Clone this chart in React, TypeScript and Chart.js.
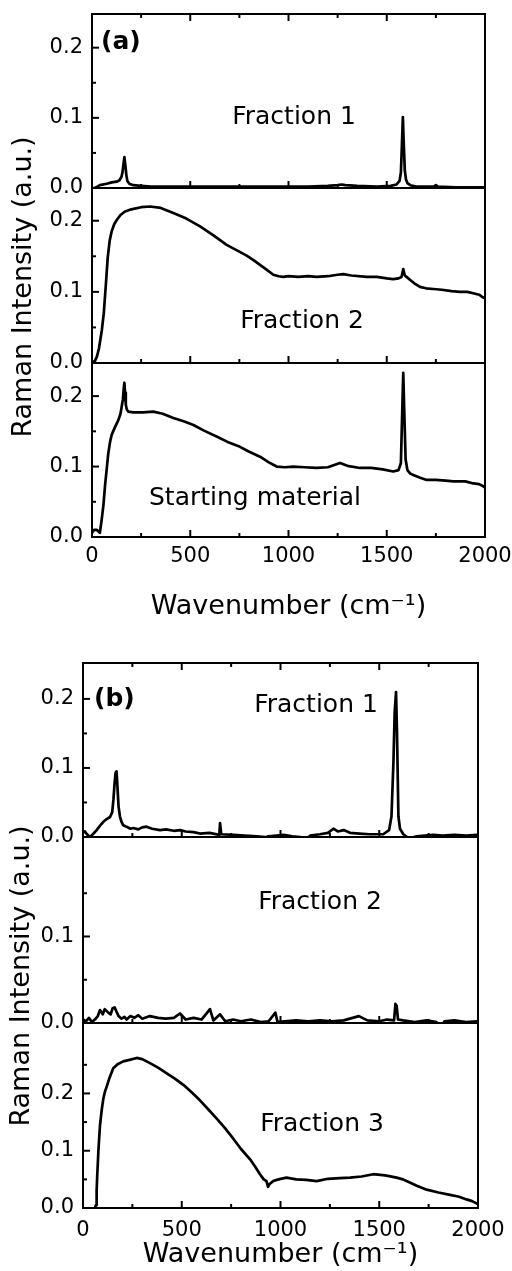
import React, { useEffect, useRef } from 'react';
import { Chart, registerables } from 'chart.js';
Chart.register(...registerables);

const FONT = "'DejaVu Sans', sans-serif";

// ---------- Panel (a) ----------
const aF1X = [0, 15, 40, 75, 100, 125, 140, 150, 155, 160, 165, 170, 175, 180, 190, 210, 250, 300, 400, 500, 600, 700, 800, 900, 1000, 1100, 1200, 1250, 1270, 1290, 1350, 1450, 1520, 1550, 1565, 1572, 1577, 1582, 1587, 1592, 1598, 1605, 1620, 1650, 1700, 1740, 1750, 1760, 1850, 1950, 2000];
const aF1Y = [0, 0.000, 0.004, 0.006, 0.008, 0.009, 0.011, 0.016, 0.022, 0.034, 0.044, 0.032, 0.018, 0.010, 0.006, 0.004, 0.003, 0.002, 0.002, 0.002, 0.002, 0.002, 0.002, 0.002, 0.002, 0.002, 0.003, 0.004, 0.005, 0.004, 0.003, 0.002, 0.003, 0.005, 0.010, 0.022, 0.060, 0.101, 0.060, 0.025, 0.012, 0.007, 0.004, 0.002, 0.002, 0.002, 0.004, 0.002, 0.001, 0.001, 0.001];

const aF2X = [0, 15, 25, 35, 42, 50, 60, 70, 80, 90, 100, 113, 126, 145, 168, 200, 250, 295, 350, 414, 480, 550, 620, 685, 740, 787, 820, 855, 890, 923, 950, 974, 1000, 1050, 1100, 1143, 1200, 1250, 1279, 1320, 1398, 1450, 1500, 1533, 1560, 1575, 1584, 1592, 1605, 1618, 1640, 1669, 1700, 1737, 1780, 1830, 1873, 1910, 1940, 1970, 1991, 2000];
const aF2Y = [0.000, 0.003, 0.009, 0.020, 0.032, 0.046, 0.070, 0.108, 0.148, 0.172, 0.185, 0.195, 0.201, 0.208, 0.213, 0.216, 0.219, 0.220, 0.218, 0.211, 0.203, 0.192, 0.179, 0.166, 0.158, 0.151, 0.145, 0.138, 0.131, 0.124, 0.122, 0.121, 0.122, 0.121, 0.122, 0.121, 0.122, 0.124, 0.125, 0.123, 0.121, 0.121, 0.119, 0.118, 0.119, 0.121, 0.132, 0.123, 0.120, 0.117, 0.112, 0.107, 0.105, 0.104, 0.103, 0.101, 0.100, 0.100, 0.098, 0.096, 0.092, 0.091];

const aSMX = [0, 10, 25, 40, 49, 58, 66, 75, 83, 92, 100, 117, 134, 145, 151, 157, 162, 165, 168, 172, 177, 185, 210, 260, 312, 360, 414, 470, 516, 570, 631, 690, 753, 800, 855, 900, 940, 980, 1025, 1080, 1143, 1200, 1262, 1300, 1364, 1420, 1480, 1533, 1560, 1572, 1578, 1584, 1590, 1596, 1605, 1620, 1635, 1670, 1703, 1750, 1800, 1839, 1900, 1940, 1970, 1991, 2000];
const aSMY = [0.006, 0.010, 0.010, 0.006, 0.024, 0.045, 0.072, 0.097, 0.119, 0.135, 0.145, 0.156, 0.166, 0.175, 0.185, 0.195, 0.212, 0.219, 0.205, 0.188, 0.181, 0.178, 0.177, 0.177, 0.178, 0.175, 0.169, 0.164, 0.159, 0.151, 0.143, 0.135, 0.128, 0.121, 0.114, 0.106, 0.100, 0.099, 0.100, 0.099, 0.098, 0.099, 0.105, 0.101, 0.098, 0.098, 0.096, 0.093, 0.095, 0.105, 0.170, 0.233, 0.170, 0.110, 0.095, 0.090, 0.088, 0.084, 0.081, 0.081, 0.080, 0.079, 0.079, 0.076, 0.075, 0.072, 0.070];

// ---------- Panel (b) ----------
const bF1X = [0, 10, 20, 35, 50, 69, 85, 103, 120, 137, 148, 154, 160, 165, 170, 175, 180, 187, 195, 204, 220, 240, 255, 280, 300, 322, 350, 390, 420, 460, 491, 520, 560, 592, 640, 690, 694, 700, 762, 820, 880, 925, 930, 935, 980, 1015, 1060, 1100, 1124, 1150, 1200, 1240, 1268, 1290, 1320, 1352, 1400, 1450, 1520, 1550, 1562, 1572, 1578, 1585, 1590, 1597, 1605, 1622, 1650, 1690, 1730, 1775, 1820, 1880, 1940, 1995, 2000];
const bF1Y = [0.006, 0.008, 0.004, 0.000, 0.004, 0.010, 0.016, 0.022, 0.026, 0.029, 0.036, 0.054, 0.078, 0.093, 0.095, 0.070, 0.044, 0.030, 0.022, 0.017, 0.015, 0.012, 0.013, 0.011, 0.014, 0.015, 0.012, 0.010, 0.011, 0.009, 0.010, 0.008, 0.007, 0.005, 0.006, 0.003, 0.020, 0.004, 0.003, 0.002, 0.001, 0.000, -0.009, 0.001, 0.002, 0.003, 0.001, 0.000, -0.005, 0.002, 0.004, 0.006, 0.012, 0.008, 0.010, 0.006, 0.005, 0.004, 0.004, 0.010, 0.030, 0.110, 0.180, 0.210, 0.150, 0.030, 0.012, 0.004, -0.002, 0.001, 0.002, 0.003, 0.002, 0.003, 0.002, 0.003, 0.003];

const bF2X = [0, 15, 30, 45, 60, 75, 86, 100, 110, 128, 140, 150, 160, 170, 180, 195, 210, 221, 240, 260, 280, 300, 339, 380, 420, 460, 491, 520, 560, 600, 643, 660, 694, 720, 760, 800, 850, 900, 940, 974, 985, 1020, 1080, 1140, 1200, 1260, 1320, 1397, 1440, 1500, 1540, 1575, 1582, 1588, 1595, 1620, 1680, 1740, 1790, 1812, 1830, 1880, 1940, 1995, 2000];
const bF2Y = [0.004, 0.002, 0.006, 0.001, 0.004, 0.008, 0.015, 0.010, 0.016, 0.012, 0.010, 0.017, 0.018, 0.013, 0.008, 0.005, 0.007, 0.004, 0.008, 0.006, 0.009, 0.005, 0.008, 0.006, 0.005, 0.006, 0.011, 0.004, 0.006, 0.004, 0.016, 0.003, 0.010, 0.002, 0.004, 0.002, 0.004, 0.001, 0.002, 0.012, 0.001, 0.002, 0.003, 0.002, 0.003, 0.002, 0.003, 0.008, 0.003, 0.002, 0.004, 0.003, 0.022, 0.020, 0.004, 0.003, 0.001, 0.003, 0.001, -0.006, 0.002, 0.003, 0.001, 0.002, 0.002];

const bF3X = [60, 66, 69, 72, 78, 86, 95, 103, 112, 120, 135, 153, 175, 204, 240, 272, 300, 339, 380, 424, 465, 508, 550, 592, 635, 677, 720, 761, 800, 846, 872, 896, 915, 929, 937, 945, 963, 990, 1030, 1080, 1130, 1183, 1240, 1300, 1352, 1410, 1470, 1530, 1588, 1620, 1638, 1690, 1740, 1800, 1858, 1900, 1942, 1970, 1993, 2000];
const bF3Y = [0, 0.005, 0.030, 0.056, 0.100, 0.144, 0.172, 0.191, 0.204, 0.212, 0.228, 0.244, 0.251, 0.256, 0.259, 0.262, 0.260, 0.253, 0.245, 0.235, 0.226, 0.215, 0.202, 0.188, 0.172, 0.156, 0.139, 0.121, 0.103, 0.085, 0.072, 0.059, 0.050, 0.047, 0.037, 0.042, 0.047, 0.050, 0.053, 0.050, 0.049, 0.047, 0.051, 0.052, 0.053, 0.055, 0.059, 0.057, 0.053, 0.050, 0.047, 0.039, 0.032, 0.027, 0.023, 0.020, 0.015, 0.012, 0.008, 0.007];

// ---------- ticks & text ----------
const X_MAJOR = [0, 500, 1000, 1500, 2000];
const X_MINOR = [250, 750, 1250, 1750];
const X_TITLE = 'Wavenumber (cm\u207B\u00B9)';
const Y_TITLE = 'Raman Intensity (a.u.)';

type Sub = { id: string; x: number[]; y: number[]; max: number; weight: number; majors: number[]; minors: number[] };
type Label = { text: string; x: number; y: number; size: number; bold?: boolean; align?: CanvasTextAlign };
type Panel = {
  top: number; height: number; yWidth: number; xHeight: number; padTop: number; padRight: number;
  xLabelPad: number; xTitlePad: number; subs: Sub[]; labels: Label[]; yTitle: { x: number; y: number };
};

const panelA: Panel = {
  top: 0, height: 640, yWidth: 92, xHeight: 103, padTop: 14, padRight: 27, xLabelPad: 7, xTitlePad: 17,
  subs: [
    { id: 'y1', x: aF1X, y: aF1Y, max: 0.248, weight: 174, majors: [0, 0.1, 0.2], minors: [0.05, 0.15] },
    { id: 'y2', x: aF2X, y: aF2Y, max: 0.246, weight: 175, majors: [0, 0.1, 0.2], minors: [0.05, 0.15] },
    { id: 'y3', x: aSMX, y: aSMY, max: 0.247, weight: 174, majors: [0, 0.1, 0.2], minors: [0.05, 0.15] },
  ],
  labels: [
    { text: '(a)', x: 101, y: 42, size: 25, bold: true, align: 'left' },
    { text: 'Fraction 1', x: 294, y: 117, size: 25 },
    { text: 'Fraction 2', x: 302, y: 321, size: 25 },
    { text: 'Starting material', x: 255, y: 498, size: 25 },
  ],
  yTitle: { x: 24, y: 287 },
};

const panelB: Panel = {
  top: 640, height: 631, yWidth: 83, xHeight: 63, padTop: 23, padRight: 34, xLabelPad: 10, xTitlePad: 0,
  subs: [
    { id: 'y1', x: bF1X, y: bF1Y, max: 0.252, weight: 174, majors: [0, 0.1, 0.2], minors: [0.05, 0.15] },
    { id: 'y2', x: bF2X, y: bF2Y, max: 0.215, weight: 186, majors: [0, 0.1], minors: [0.05, 0.15] },
    { id: 'y3', x: bF3X, y: bF3Y, max: 0.323, weight: 185, majors: [0, 0.1, 0.2], minors: [0.05, 0.15, 0.25] },
  ],
  labels: [
    { text: '(b)', x: 94, y: 59, size: 25, bold: true, align: 'left' },
    { text: 'Fraction 1', x: 316, y: 65, size: 25 },
    { text: 'Fraction 2', x: 320, y: 262, size: 25 },
    { text: 'Fraction 3', x: 322, y: 484, size: 25 },
  ],
  yTitle: { x: 22, y: 336 },
};

function framePlugin(p: Panel) {
  return {
    id: 'frame',
    afterDraw(chart: any) {
      const ctx: CanvasRenderingContext2D = chart.ctx;
      const ca = chart.chartArea;
      const xs = chart.scales.x;
      ctx.save();
      ctx.strokeStyle = '#000';
      ctx.fillStyle = '#000';
      ctx.lineWidth = 2;
      const line = (x1: number, y1: number, x2: number, y2: number) => {
        ctx.beginPath(); ctx.moveTo(x1, y1); ctx.lineTo(x2, y2); ctx.stroke();
      };
      ctx.strokeRect(ca.left, ca.top, ca.right - ca.left, ca.bottom - ca.top);
      p.subs.forEach((sub, i) => {
        const s = chart.scales[sub.id];
        if (i < p.subs.length - 1) line(ca.left, s.bottom, ca.right, s.bottom);
        sub.majors.forEach((v) => { const py = s.getPixelForValue(v); line(ca.left, py, ca.left + 7, py); });
        sub.minors.forEach((v) => { const py = s.getPixelForValue(v); line(ca.left, py, ca.left + 4, py); });
        X_MAJOR.forEach((v) => { const px = xs.getPixelForValue(v); line(px, s.bottom, px, s.bottom - 7); });
        X_MINOR.forEach((v) => { const px = xs.getPixelForValue(v); line(px, s.bottom, px, s.bottom - 4); });
        if (i === 0) {
          X_MAJOR.forEach((v) => { const px = xs.getPixelForValue(v); line(px, s.top, px, s.top + 7); });
          X_MINOR.forEach((v) => { const px = xs.getPixelForValue(v); line(px, s.top, px, s.top + 4); });
        }
      });
      ctx.textBaseline = 'middle';
      p.labels.forEach((l) => {
        ctx.font = `${l.bold ? 'bold ' : ''}${l.size}px ${FONT}`;
        ctx.textAlign = l.align || 'center';
        ctx.fillText(l.text, l.x, l.y);
      });
      ctx.save();
      ctx.translate(p.yTitle.x, p.yTitle.y);
      ctx.rotate(-Math.PI / 2);
      ctx.font = `27px ${FONT}`;
      ctx.textAlign = 'center';
      ctx.fillText(Y_TITLE, 0, 0);
      ctx.restore();
      ctx.restore();
    },
  };
}

function buildConfig(p: Panel): any {
  const scales: any = {
    x: {
      type: 'linear', position: 'bottom', min: 0, max: 2000,
      grid: { display: false, drawTicks: false }, border: { display: false },
      ticks: {
        stepSize: 500, color: '#000', font: { family: FONT, size: 21 }, padding: p.xLabelPad,
        maxRotation: 0, autoSkip: false, callback: (v: any) => String(v),
      },
      title: { display: true, text: X_TITLE, color: '#000', font: { family: FONT, size: 27 }, padding: { top: 0, bottom: p.xTitlePad } },
      afterFit: (s: any) => { s.height = p.xHeight; s.paddingLeft = 0; s.paddingRight = 0; },
    },
  };
  p.subs.forEach((sub, i) => {
    scales[sub.id] = {
      type: 'linear', position: 'left', stack: 'panel', stackWeight: sub.weight, weight: p.subs.length - i,
      min: 0, max: sub.max,
      grid: { display: false, drawTicks: false }, border: { display: false },
      ticks: {
        stepSize: 0.1, includeBounds: false, color: '#000', padding: 9,
        font: { family: FONT, size: 21 },
        callback: (v: any) => Number(v).toFixed(1),
      },
      afterBuildTicks: (s: any) => {
        s.ticks = s.ticks.filter((t: any) => sub.majors.some((m) => Math.abs(m - t.value) < 1e-6));
      },
      afterFit: (s: any) => { s.width = p.yWidth; s.paddingTop = 0; s.paddingBottom = 0; },
    };
  });
  return {
    type: 'line',
    data: {
      datasets: p.subs.map((sub) => ({
        data: sub.x.map((x, i) => ({ x, y: sub.y[i] })),
        yAxisID: sub.id,
        xAxisID: 'x',
        borderColor: '#000',
        borderWidth: 2.7,
        borderJoinStyle: 'round',
        pointRadius: 0,
        tension: 0,
        fill: false,
      })),
    },
    options: {
      responsive: false,
      animation: false,
      devicePixelRatio: 1,
      layout: { padding: { top: p.padTop, right: p.padRight, left: 0, bottom: 0 } },
      plugins: { legend: { display: false }, tooltip: { enabled: false }, title: { display: false } },
      scales,
    },
    plugins: [framePlugin(p)],
  };
}

function PanelChart({ p }: { p: Panel }) {
  const ref = useRef<HTMLCanvasElement | null>(null);
  useEffect(() => {
    if (!ref.current) return;
    const chart = new Chart(ref.current, buildConfig(p));
    return () => chart.destroy();
  }, [p]);
  return (
    <canvas
      ref={ref}
      width={512}
      height={p.height}
      style={{ position: 'absolute', left: 0, top: p.top, width: 512, height: p.height }}
    />
  );
}

export default function App() {
  return (
    <div style={{ position: 'absolute', left: 0, top: 0, width: 512, height: 1271, overflow: 'hidden', background: '#fff' }}>
      <PanelChart p={panelA} />
      <PanelChart p={panelB} />
    </div>
  );
}
